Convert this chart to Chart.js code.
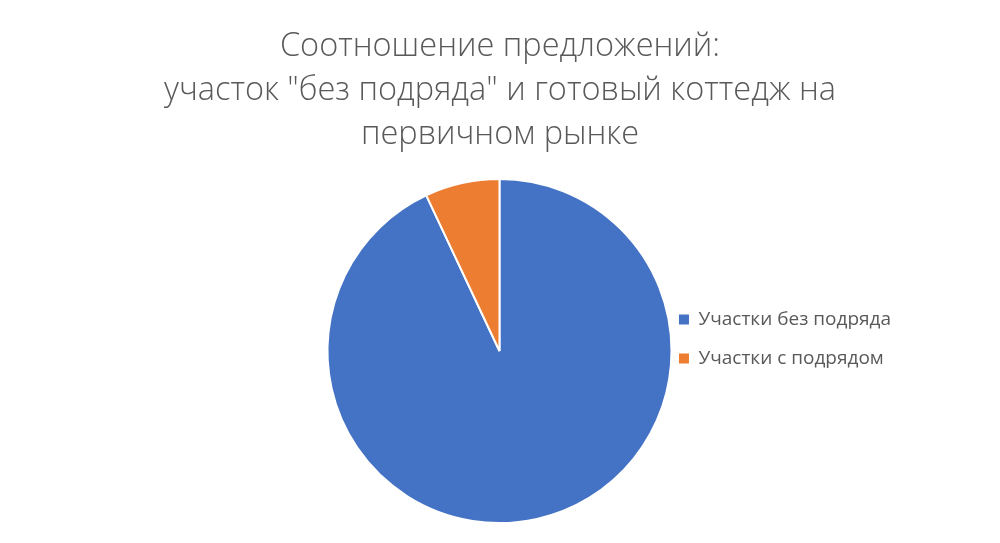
<!DOCTYPE html>
<html>
<head>
<meta charset="utf-8">
<script src="https://cdn.jsdelivr.net/npm/chart.js@4"></script>
<style>
  html, body { margin: 0; padding: 0; background: #fff; }
  #wrap { width: 1000px; height: 543px; }
</style>
</head>
<body>
<div id="wrap"><canvas id="pieChart"></canvas></div>
<script>
// Chart data
const categories = ['Участки без подряда', 'Участки с подрядом'];
const shares = [93, 7];
const sliceColors = ['#4472C4', '#ED7D31'];
const titleLines = ['Соотношение предложений:', 'участок "без подряда" и готовый коттедж на', 'первичном рынке'];

// Title centered on the whole canvas (the built-in title would shift with the padding)
const centeredTitle = {
    id: 'centeredTitle',
    afterDraw(chart) {
        const c = chart.ctx;
        c.save();
        c.fillStyle = '#595959';
        c.font = '300 32.5px "Open Sans"';
        c.textAlign = 'center';
        c.textBaseline = 'middle';
        titleLines.forEach((line, i) => {
            c.fillText(line, chart.width / 2, 47 + i * 44);
        });
        c.restore();
    }
};

const ctx = document.getElementById('pieChart');
new Chart(ctx, {
    type: 'pie',
    data: {
        labels: categories,
        datasets: [{
            data: shares,
            backgroundColor: sliceColors,
            borderColor: '#ffffff',
            borderWidth: 2,
            hoverOffset: 0
        }]
    },
    options: {
        responsive: true,
        maintainAspectRatio: false,
        animation: false,
        layout: {
            padding: { top: 178, left: 326, right: 99, bottom: 19 }
        },
        plugins: {
            title: { display: false },
            legend: {
                position: 'right',
                // empty title with negative padding just nudges the rows up a little
                title: { display: true, text: '', font: { size: 1, lineHeight: 1 }, padding: { top: -5.5, bottom: -5.5 } },
                labels: {
                    color: '#595959',
                    font: { family: 'Open Sans', size: 19, lineHeight: 33 / 19 },
                    boxWidth: 10,
                    boxHeight: 10,
                    padding: 6,
                    // text as a one-line array so the row height follows font.lineHeight
                    generateLabels(chart) {
                        const items = Chart.overrides.pie.plugins.legend.labels.generateLabels(chart);
                        items.forEach(it => { it.text = [it.text]; it.lineWidth = 0; });
                        return items;
                    }
                }
            },
            tooltip: { enabled: false }
        }
    },
    plugins: [centeredTitle]
});
</script>
</body>
</html>
